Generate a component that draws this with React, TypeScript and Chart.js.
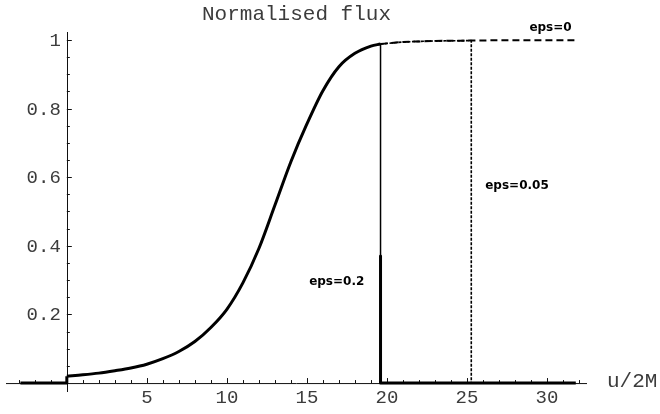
import React, { useEffect, useRef } from "react";
import { Chart, registerables } from "chart.js";

Chart.register(...registerables);

// ---- data ----
const preU = [-2.9, 0, 0];
const preFlux = [0, 0, 0.02];
const curveU = [0, 1, 2, 3, 4, 5, 6, 7, 8, 9, 10, 11, 12, 13, 14, 15, 16, 17, 18, 19, 19.6];
const curveFlux = [0.02, 0.024, 0.029, 0.036, 0.044, 0.055, 0.071, 0.092, 0.121, 0.162, 0.215, 0.292, 0.392, 0.518, 0.645, 0.755, 0.852, 0.922, 0.961, 0.982, 0.988];
const plateauU = [19.6, 21, 23, 25.27, 27, 29, 31.8];
const plateauFlux = [0.988, 0.994, 0.997, 0.998, 0.999, 0.999, 0.999];
const cutoffEps02 = 19.6;
const cutoffEps005 = 25.27;
const eps02ThickTop = 0.37;
const tailEndU = 31.8;

const xTickValues = [5, 10, 15, 20, 25, 30];
const xTickLabels = ["5", "10", "15", "20", "25", "30"];
const yTickValues = [0.2, 0.4, 0.6, 0.8, 1];
const yTickLabels = ["0.2", "0.4", "0.6", "0.8", "1"];

const annotationTexts = ["eps=0", "eps=0.05", "eps=0.2"];
const annotationU = [28.9, 26.14, 15.14];
const annotationFlux = [1.0245, 0.5665, 0.285];

const titleText = "Normalised flux";
const xAxisTitle = "u/2M";

const pts = (xs: number[], ys: number[]) => xs.map((x, i) => ({ x, y: ys[i] }));

const axesPlugin = {
  id: "mathAxes",
  beforeDatasetsDraw(chart: any) {
    const { ctx, chartArea, scales } = chart;
    const xs = scales.x;
    const ys = scales.y;
    const x0 = xs.getPixelForValue(0);
    const y0 = ys.getPixelForValue(0);
    ctx.save();
    ctx.strokeStyle = "#111";
    ctx.lineWidth = 1;
    ctx.beginPath();
    ctx.moveTo(chartArea.left, y0 + 0.5);
    ctx.lineTo(chartArea.right, y0 + 0.5);
    ctx.moveTo(Math.round(x0) + 0.5, chartArea.top);
    ctx.lineTo(Math.round(x0) + 0.5, chartArea.bottom);
    ctx.stroke();
    ctx.beginPath();
    for (let u = -3; u <= 32; u++) {
      if (u === 0) continue;
      const px = Math.round(xs.getPixelForValue(u)) + 0.5;
      const len = u % 5 === 0 ? 5 : 3;
      ctx.moveTo(px, y0);
      ctx.lineTo(px, y0 - len);
    }
    for (let k = 1; k <= 20; k++) {
      const v = k * 0.05;
      const py = Math.round(ys.getPixelForValue(v)) + 0.5;
      const len = k % 4 === 0 ? 5 : 3;
      ctx.moveTo(x0, py);
      ctx.lineTo(x0 + len, py);
    }
    ctx.stroke();
    ctx.restore();
  },
  afterDraw(chart: any) {
    const { ctx, chartArea, scales } = chart;
    const xs = scales.x;
    const ys = scales.y;
    const x0 = xs.getPixelForValue(0);
    const y0 = ys.getPixelForValue(0);
    ctx.save();
    ctx.fillStyle = "#3c3c3c";
    ctx.font = "19px 'Liberation Mono', 'DejaVu Sans Mono', monospace";
    ctx.textAlign = "right";
    ctx.textBaseline = "middle";
    yTickValues.forEach((v, i) => {
      ctx.fillText(yTickLabels[i], x0 - 6, ys.getPixelForValue(v) + 1);
    });
    ctx.textAlign = "center";
    ctx.textBaseline = "alphabetic";
    xTickValues.forEach((v, i) => {
      ctx.fillText(xTickLabels[i], xs.getPixelForValue(v), y0 + 20);
    });
    ctx.font = "21px 'Liberation Mono', 'DejaVu Sans Mono', monospace";
    ctx.textAlign = "left";
    ctx.fillText(xAxisTitle, chartArea.right + 20, y0 + 4);
    ctx.textAlign = "center";
    ctx.fillText(titleText, (chartArea.left + chartArea.right) / 2, 20);
    ctx.fillStyle = "#000";
    ctx.font = "bold 12px 'DejaVu Sans', sans-serif";
    ctx.textAlign = "left";
    annotationTexts.forEach((t, i) => {
      ctx.fillText(t, xs.getPixelForValue(annotationU[i]), ys.getPixelForValue(annotationFlux[i]));
    });
    ctx.restore();
  },
};

export default function App() {
  const ref = useRef<HTMLCanvasElement | null>(null);
  useEffect(() => {
    if (!ref.current) return;
    const base = {
      showLine: true,
      pointRadius: 0,
      borderColor: "#000",
      backgroundColor: "#000",
      fill: false,
      tension: 0,
      borderJoinStyle: "round" as const,
    };
    const chart = new Chart(ref.current, {
      type: "scatter",
      data: {
        datasets: [
          { ...base, label: "eps=0", data: pts(plateauU, plateauFlux), borderWidth: 2, borderDash: [7, 4] },
          {
            ...base,
            label: "eps=0.05",
            data: [
              ...pts(plateauU.slice(0, 4), plateauFlux.slice(0, 4)),
              { x: cutoffEps005, y: 0 },
            ],
            borderWidth: 1.6,
            borderDash: [3, 1.5],
          },
          {
            ...base,
            label: "pre",
            data: pts(preU, preFlux),
            borderWidth: 3,
          },
          {
            ...base,
            label: "flux",
            data: pts(curveU, curveFlux),
            borderWidth: 3,
            cubicInterpolationMode: "monotone" as const,
          },
          {
            ...base,
            label: "eps=0.2 drop",
            data: [
              { x: cutoffEps02, y: curveFlux[curveFlux.length - 1] },
              { x: cutoffEps02, y: eps02ThickTop },
            ],
            borderWidth: 1.5,
          },
          {
            ...base,
            label: "eps=0.2 tail",
            data: [
              { x: cutoffEps02, y: eps02ThickTop },
              { x: cutoffEps02, y: 0 },
              { x: tailEndU, y: 0 },
            ],
            borderWidth: 3,
          },
        ],
      },
      options: {
        animation: false,
        responsive: true,
        maintainAspectRatio: false,
        layout: { padding: { left: 6, right: 73, top: 32, bottom: 22 } },
        plugins: { legend: { display: false }, tooltip: { enabled: false }, title: { display: false } },
        scales: {
          x: { type: "linear", min: -3.8, max: 32.5, display: false },
          y: { type: "linear", min: -0.026, max: 1.023, display: false },
        },
      },
      plugins: [axesPlugin],
    });
    return () => chart.destroy();
  }, []);
  return (
    <div style={{ position: "fixed", left: 0, top: 0, width: 660, height: 414, background: "#fff" }}>
      <canvas ref={ref} />
    </div>
  );
}
